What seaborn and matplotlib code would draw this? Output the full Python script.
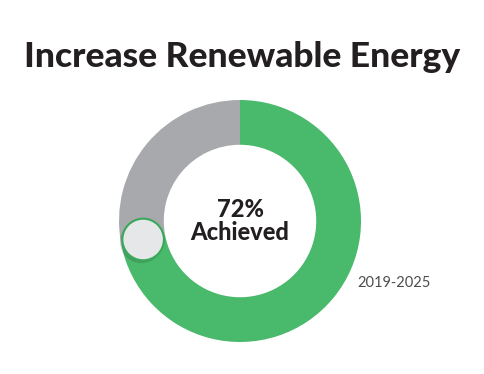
"""Donut progress chart: renewable energy target"""
import numpy as np
import matplotlib.pyplot as plt
import seaborn as sns
from matplotlib.patches import Circle

sns.set_style("white")
plt.rcParams['font.family'] = ['Lato', 'DejaVu Sans']

# Data
title = "Increase Renewable Energy"
segments = ["Achieved", "Remaining"]
values = [72, 28]
period_label = "2019-2025"

green = "#49b96b"
grey = "#a7a9ac"

fig = plt.figure(figsize=(4.84, 3.74), dpi=100)

# donut axes: center ~ (240, 221) px, outer radius ~121 px
W, H = 484, 374
cx, cy, r_px = 240, 221, 121
ax = fig.add_axes([(cx - r_px) / W, (H - cy - r_px) / H, 2 * r_px / W, 2 * r_px / H])

ring = 0.37
ax.pie(values, colors=[green, grey], startangle=90, counterclock=False,
       radius=1, wedgeprops=dict(width=ring, linewidth=0))
ax.set_xlim(-1, 1)
ax.set_ylim(-1, 1)
ax.set_aspect('equal')
ax.axis('off')

# marker at the end of the achieved arc
ang = np.deg2rad(90 - 360 * values[0] / sum(values))
rm = 1 - ring / 2
mx, my = rm * np.cos(ang), rm * np.sin(ang)
ax.add_patch(Circle((mx - 0.015, my - 0.02), 0.176, color='#333333', alpha=0.2, lw=0, zorder=3))
ax.add_patch(Circle((mx, my), 0.172, facecolor='#e6e7e8', edgecolor='#3aa85a', lw=1.5, zorder=4))

ax.text(0, 0.0, f"{values[0]}%\n{segments[0]}", ha='center', va='center',
        fontsize=17, fontweight='black', color='#231f20', linespacing=1.0)

fig.text(0.5, 1 - 57 / H, title, ha='center', va='center',
         fontsize=25.5, fontweight='black', color='#231f20')
fig.text(357 / W, 1 - 283 / H, period_label, ha='left', va='center',
         fontsize=10.5, color='#4d4d4f')

plt.savefig('out.png', dpi=100)
plt.close()
